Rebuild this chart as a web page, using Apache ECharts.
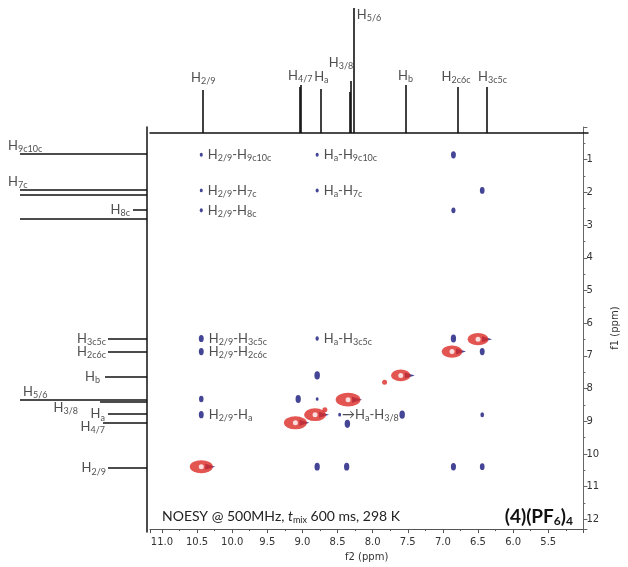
<!DOCTYPE html>
<html><head><meta charset="utf-8">
<script src="https://cdn.jsdelivr.net/npm/echarts@6/dist/echarts.min.js"></script>
<style>html,body{margin:0;padding:0;background:#fff}#c{width:628px;height:567px}</style>
</head><body><div id="c"></div>
<script>
// ---- top 1D projection (f2) ----
const topPeakPpm    = [10.42, 9.06, 9.04, 8.77, 8.363, 8.339, 8.30, 7.57, 6.83, 6.43];
const topPeakHeight = [43, 46, 48, 44, 41, 52, 125, 48, 46, 46];
const topPeakLabel  = ['H2/9', '', 'H4/7', 'Ha', '', 'H3/8', 'H5/6', 'Hb', 'H2c6c', 'H3c5c'];

// ---- left 1D projection (f1) ----
const leftPeakPpm    = [0.82, 1.91, 2.06, 2.52, 2.79, 6.44, 6.83, 7.59, 8.29, 8.35, 8.72, 8.99, 10.36];
const leftPeakHeight = [127, 127, 127, 14, 127, 39, 39, 42, 127, 47, 39, 44, 39];
const leftPeakLabel  = ['H9c10c', 'H7c', '', 'H8c', '', 'H3c5c', 'H2c6c', 'Hb', 'H5/6', 'H3/8', 'Ha', 'H4/7', 'H2/9'];

// ---- diagonal (red) peaks ----
const diagF2 = [10.44, 9.10, 8.82, 8.35, 7.60, 6.87, 6.50];
const diagF1 = [10.39, 9.05, 8.80, 8.34, 7.60, 6.87, 6.49];
const diagIntensity = [1.0, 1.0, 0.9, 1.2, 0.6, 0.75, 0.75];
const smallRedF2 = [8.68, 7.83];
const smallRedF1 = [8.65, 7.81];

// ---- NOE cross peaks (blue) ----
const crossF2 = [10.44, 10.44, 10.44, 8.79, 8.79, 6.85, 6.44, 6.85,
                 10.44, 10.44, 8.79, 6.85, 6.44, 8.79, 10.44, 9.06, 8.79,
                 10.44, 8.47, 7.58, 6.44, 8.36, 8.79, 8.37, 6.85, 6.44];
const crossF1 = [0.85, 1.94, 2.55, 0.85, 1.94, 0.85, 1.94, 2.55,
                 6.47, 6.87, 6.47, 6.47, 6.87, 7.60, 8.32, 8.32, 8.32,
                 8.80, 8.80, 8.80, 8.80, 9.08, 10.39, 10.39, 10.39, 10.39];
const crossIntensity = [0.15, 0.1, 0.15, 0.15, 0.15, 0.6, 0.55, 0.4,
                        0.6, 0.6, 0.2, 0.7, 0.6, 0.75, 0.5, 0.7, 0.1,
                        0.6, 0.1, 0.75, 0.3, 0.75, 0.7, 0.7, 0.65, 0.55];
const crossLabel = ['H2/9-H9c10c', 'H2/9-H7c', 'H2/9-H8c', 'Ha-H9c10c', 'Ha-H7c', '', '', '',
                    'H2/9-H3c5c', 'H2/9-H2c6c', 'Ha-H3c5c', '', '', '', '', '', '',
                    'H2/9-Ha', '→Ha-H3/8', '', '', '', '', '', '', ''];

// ---- axes ----
const f2Min = 5.0, f2Max = 11.17, f2Step = 0.5;
const f1Min = 0, f1Max = 12.3, f1Step = 1;

const FONT = 'Lato';
const TXT = '#222';
const rich = {
  m: {fontFamily: FONT, fontSize: 13, fontWeight: 'normal', color: TXT, lineHeight: 16},
  s: {fontFamily: FONT, fontSize: 9, fontWeight: 'normal', color: TXT, lineHeight: 10, verticalAlign: 'bottom'}
};
function richName(name) {
  return name.split('-').map((p, i) => (i > 0 ? '{m|-}' : '') +
    p.replace(/^(→?)H(.*)$/, (m, a, b) => '{m|' + a + 'H}' + (b ? '{s|' + b + '}' : ''))).join('');
}

const topPlace = {
  'H2/9': {position: 'top', distance: 4},
  'H4/7': {position: 'top', distance: 1, offset: [-1, 0]},
  'Ha': {position: 'top', distance: 4, offset: [1, 0]},
  'H3/8': {position: 'top', distance: 10, offset: [-10, 0]},
  'H5/6': {position: 'right', distance: 3, offset: [0, 7]},
  'Hb': {position: 'top', distance: 1},
  'H2c6c': {position: 'top', distance: 2, offset: [-2, 0]},
  'H3c5c': {position: 'top', distance: 2, offset: [6, 0]}
};
const leftPlace = {
  'H9c10c': {position: 'top', align: 'left', distance: 0, offset: [-12, 0]},
  'H7c': {position: 'top', align: 'left', distance: 0, offset: [-12, 0]},
  'H8c': {position: 'left', distance: 3},
  'H3c5c': {position: 'left', distance: 2},
  'H2c6c': {position: 'left', distance: 2},
  'Hb': {position: 'left', distance: 5},
  'H5/6': {position: 'top', align: 'left', distance: 0, offset: [3, 0]},
  'H3/8': {position: 'left', distance: 22, offset: [0, 6]},
  'Ha': {position: 'left', distance: 3},
  'H4/7': {position: 'left', distance: -2, offset: [0, 4]},
  'H2/9': {position: 'left', distance: 2}
};

const topSticks = topPeakPpm.map((p, i) => ({coords: [[p, 0], [p, topPeakHeight[i]]]}));
const topLabels = topPeakPpm.map((p, i) => ({
  value: [p, topPeakHeight[i]],
  label: Object.assign({show: !!topPeakLabel[i], formatter: richName(topPeakLabel[i] || 'H'), rich: rich},
    topPlace[topPeakLabel[i]] || {})
}));
const leftSticks = leftPeakPpm.map((p, i) => ({coords: [[0, p], [leftPeakHeight[i], p]]}));
const leftLabels = leftPeakPpm.map((p, i) => ({
  value: [leftPeakHeight[i], p],
  label: Object.assign({show: !!leftPeakLabel[i], formatter: richName(leftPeakLabel[i] || 'H'), rich: rich},
    leftPlace[leftPeakLabel[i]] || {})
}));

const diagData = diagF2.map((x, i) => ({value: [x, diagF1[i]], symbolSize: [14 + 9 * diagIntensity[i], 10 + 3 * diagIntensity[i]]}));
const diagCore = diagF2.map((x, i) => [x, diagF1[i]]);
const smallRed = smallRedF2.map((x, i) => [x, smallRedF1[i]]);
const crossData = crossF2.map((x, i) => ({
  value: [x, crossF1[i]],
  symbolSize: [2.5 + 4 * crossIntensity[i], 3 + 7 * crossIntensity[i]],
  label: {show: !!crossLabel[i], position: 'right', distance: crossLabel[i].startsWith('→') ? 1 : 5,
    formatter: richName(crossLabel[i] || 'H'), rich: rich}
}));

const BLUE = '#15177a', RED = '#dc2a26';

const option = {
  animation: false,
  backgroundColor: '#fff',
  title: [
    {text: '{r|NOESY @ 500MHz, }{i|t}{s|mix}{r| 600 ms, 298 K}', left: 157, top: 503,
      textStyle: {fontWeight: 'normal', rich: {
        r: {fontFamily: FONT, fontSize: 14, fontWeight: 'normal', color: TXT, lineHeight: 17},
        i: {fontFamily: FONT, fontSize: 14, fontWeight: 'normal', fontStyle: 'italic', color: TXT, lineHeight: 17},
        s: {fontFamily: FONT, fontSize: 9, fontWeight: 'normal', color: TXT, lineHeight: 11, verticalAlign: 'bottom'}}}},
    {text: '{b|(4)(PF}{bs|6}{b|)}{bs|4}', right: 50, top: 501,
      textStyle: {rich: {
        b: {fontFamily: FONT, fontSize: 19, fontWeight: 'bold', color: '#111', lineHeight: 21},
        bs: {fontFamily: FONT, fontSize: 12, fontWeight: 'bold', color: '#111', lineHeight: 13, verticalAlign: 'bottom'}}}}
  ],
  grid: [
    {left: 150, right: 40, top: 127, bottom: 35},
    {left: 150, right: 40, top: 0, height: 133},
    {left: 0, width: 147, top: 127, bottom: 35}
  ],
  xAxis: [
    {gridIndex: 0, type: 'value', min: f2Min, max: f2Max, interval: f2Step, inverse: true,
      name: 'f2 (ppm)', nameLocation: 'middle', nameGap: 19,
      nameTextStyle: {fontFamily: 'DejaVu Sans', fontSize: 10, color: '#333'},
      axisLine: {onZero: false, lineStyle: {color: '#555', width: 1}},
      axisTick: {length: 4, lineStyle: {color: '#555'}},
      minorTick: {show: true, splitNumber: 2, length: 2, lineStyle: {color: '#555'}},
      axisLabel: {showMinLabel: false, showMaxLabel: false, margin: 8, fontFamily: 'DejaVu Sans', fontSize: 10, color: '#333',
        formatter: v => v.toFixed(1)},
      splitLine: {show: false}},
    {gridIndex: 1, type: 'value', min: f2Min, max: f2Max, inverse: true,
      axisLine: {lineStyle: {color: '#111', width: 1.5}}, axisTick: {show: false}, axisLabel: {show: false}, splitLine: {show: false}},
    {gridIndex: 2, type: 'value', min: 0, max: 147, inverse: true, show: false}
  ],
  yAxis: [
    {gridIndex: 0, type: 'value', min: f1Min, max: f1Max, interval: f1Step, inverse: true, position: 'right',
      name: 'f1 (ppm)', nameLocation: 'middle', nameGap: 25, nameRotate: 90,
      nameTextStyle: {fontFamily: 'DejaVu Sans', fontSize: 10, color: '#333'},
      axisLine: {onZero: false, lineStyle: {color: '#666', width: 1}},
      axisTick: {length: 4, lineStyle: {color: '#666'}},
      minorTick: {show: true, splitNumber: 2, length: 2, lineStyle: {color: '#666'}},
      axisLabel: {showMinLabel: false, showMaxLabel: false, margin: 3, fontFamily: 'DejaVu Sans', fontSize: 10, color: '#333'},
      splitLine: {show: false}},
    {gridIndex: 1, type: 'value', min: 0, max: 133, show: false},
    {gridIndex: 2, type: 'value', min: f1Min, max: f1Max, inverse: true, position: 'right',
      axisLine: {onZero: false, lineStyle: {color: '#111', width: 1.5}}, axisTick: {show: false}, axisLabel: {show: false}, splitLine: {show: false}}
  ],
  series: [
    {type: 'lines', coordinateSystem: 'cartesian2d', xAxisIndex: 1, yAxisIndex: 1, silent: true,
      lineStyle: {color: '#111', width: 1.6, opacity: 1}, data: topSticks},
    {type: 'scatter', xAxisIndex: 1, yAxisIndex: 1, symbolSize: 0, silent: true, data: topLabels},
    {type: 'lines', coordinateSystem: 'cartesian2d', xAxisIndex: 2, yAxisIndex: 2, silent: true,
      lineStyle: {color: '#111', width: 1.6, opacity: 1}, data: leftSticks},
    {type: 'scatter', xAxisIndex: 2, yAxisIndex: 2, symbolSize: 0, silent: true, data: leftLabels},
    {type: 'scatter', xAxisIndex: 0, yAxisIndex: 0, silent: true, symbol: 'triangle', symbolRotate: -90,
      symbolSize: [6, 10], symbolOffset: [9, 0], itemStyle: {color: BLUE}, data: diagCore},
    {type: 'scatter', xAxisIndex: 0, yAxisIndex: 0, silent: true, symbol: 'circle',
      itemStyle: {color: RED}, data: diagData},
    {type: 'scatter', xAxisIndex: 0, yAxisIndex: 0, silent: true, symbol: 'circle', symbolSize: 5,
      itemStyle: {color: '#fff'}, data: diagCore},
    {type: 'scatter', xAxisIndex: 0, yAxisIndex: 0, silent: true, symbol: 'circle', symbolSize: 5,
      itemStyle: {color: RED}, data: smallRed},
    {type: 'scatter', xAxisIndex: 0, yAxisIndex: 0, silent: true, symbol: 'circle',
      itemStyle: {color: BLUE}, data: crossData}
  ]
};
echarts.init(document.getElementById('c'), null, {renderer: 'canvas'}).setOption(option);
</script></body></html>
